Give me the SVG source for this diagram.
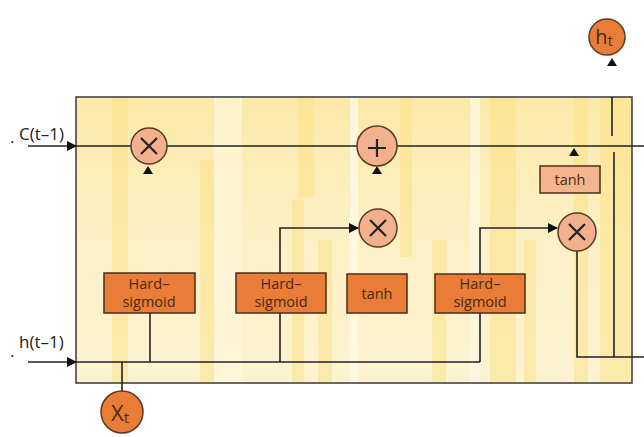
<svg xmlns="http://www.w3.org/2000/svg" width="644" height="437" viewBox="0 0 644 437">
<defs>
<marker id="arr" markerWidth="10" markerHeight="10" refX="9" refY="5" orient="auto" markerUnits="userSpaceOnUse">
<path d="M0,0 L10,5 L0,10 Z" fill="#111"/>
</marker>
<linearGradient id="bg" x1="0" y1="0" x2="0" y2="1">
<stop offset="0" stop-color="#FCE9A8"/>
<stop offset="0.5" stop-color="#FDF0C6"/>
<stop offset="1" stop-color="#FDF3D2"/>
</linearGradient>
</defs>
<style>
.ln{stroke:#222;stroke-width:1.6;fill:none}
.op{fill:#F2B08C;stroke:#5a3a22;stroke-width:1.5}
.gate{fill:#E97D38;stroke:#4a2e18;stroke-width:1.5}
.pale{fill:#F4B58E;stroke:#4a2e18;stroke-width:1.5}
.io{fill:#E97D38;stroke:#5a3a22;stroke-width:1.5}
.t{font-family:"Open Sans","Liberation Sans",sans-serif;font-size:14.5px;fill:#4a2a12;text-anchor:middle}
.lab{font-family:"Open Sans","Liberation Sans",sans-serif;font-size:17px;fill:#222}
.sym{stroke:#222;stroke-width:2.2;fill:none}
.tri{fill:#111}
.st{fill:#FBE07E;opacity:0.45}
</style>
<rect x="0" y="0" width="644" height="437" fill="#fff"/>
<g id="cell">
<rect x="76" y="97" width="556" height="286" fill="url(#bg)"/>
<rect x="112" y="97" width="16" height="286" class="st"/>
<rect x="200" y="160" width="14" height="223" class="st"/>
<rect x="214" y="97" width="28" height="286" fill="#FEF7DC" opacity="0.7"/>
<rect x="292" y="200" width="12" height="183" class="st"/>
<rect x="318" y="240" width="14" height="143" class="st"/>
<rect x="298" y="97" width="16" height="100" class="st"/>
<rect x="350" y="97" width="8" height="286" fill="#FEF9E6" opacity="0.8"/>
<rect x="400" y="97" width="12" height="160" class="st"/>
<rect x="432" y="240" width="14" height="143" class="st"/>
<rect x="470" y="97" width="10" height="286" fill="#FEF8E0" opacity="0.8"/>
<rect x="490" y="97" width="26" height="286" class="st"/>
<rect x="524" y="240" width="12" height="143" class="st"/>
<rect x="574" y="97" width="14" height="286" class="st"/>
<rect x="600" y="97" width="32" height="286" class="st" opacity="0.3"/>
<rect x="76" y="97" width="556" height="286" fill="none" stroke="#444" stroke-width="1.6"/>
</g>
<g id="connectors">
<line x1="28" y1="146" x2="76" y2="146" class="ln" marker-end="url(#arr)"/>
<line x1="76" y1="146" x2="644" y2="146" class="ln"/>
<line x1="28" y1="362" x2="76" y2="362" class="ln" marker-end="url(#arr)"/>
<line x1="76" y1="362" x2="480" y2="362" class="ln"/>
<polyline points="150,313 150,362" class="ln"/>
<polyline points="280,362 280,228 358,228" class="ln" marker-end="url(#arr)"/>
<polyline points="480,362 480,228 557,228" class="ln" marker-end="url(#arr)"/>
<polyline points="577,251 577,357 644,357" class="ln"/>
<line x1="614" y1="152" x2="614" y2="357" class="ln"/>
<line x1="612" y1="97" x2="612" y2="136" class="ln"/>
<line x1="122" y1="362" x2="122" y2="391" class="ln"/>
<path d="M143,174 L148,166 L153,174 Z" class="tri"/>
<path d="M372,174 L377,166 L382,174 Z" class="tri"/>
<path d="M569,156 L574,148 L579,156 Z" class="tri"/>
<path d="M607,66 L612,58 L617,66 Z" class="tri"/>
</g>
<g id="labels">
<text x="10" y="143" class="lab">.</text>
<text x="19" y="140" class="lab">C(t–1)</text>
<text x="10" y="357" class="lab">.</text>
<text x="19" y="348" class="lab">h(t–1)</text>
</g>
<g id="mult1"><circle cx="149" cy="146" r="18" class="op"/><path d="M141,138 L157,154 M157,138 L141,154" class="sym"/></g>
<g id="plus"><circle cx="377" cy="146" r="20" class="op"/><path d="M368,148 L386,148 M377,139 L377,157" class="sym"/></g>
<g id="mult2"><circle cx="378" cy="228" r="19" class="op"/><path d="M370,220 L386,236 M386,220 L370,236" class="sym"/></g>
<g id="mult3"><circle cx="577" cy="232" r="19" class="op"/><path d="M569,224 L585,240 M585,224 L569,240" class="sym"/></g>
<g id="tanh2"><rect x="540" y="166" width="60" height="27" class="pale"/><text x="570" y="185" class="t">tanh</text></g>
<g id="hs1"><rect x="104" y="273" width="91" height="40" class="gate"/><text x="149" y="289" class="t">Hard–</text><text x="149" y="307" class="t">sigmoid</text></g>
<g id="hs2"><rect x="236" y="273" width="90" height="40" class="gate"/><text x="281" y="289" class="t">Hard–</text><text x="281" y="307" class="t">sigmoid</text></g>
<g id="tanh1"><rect x="347" y="274" width="60" height="39" class="gate"/><text x="377" y="299" class="t">tanh</text></g>
<g id="hs3"><rect x="435" y="274" width="90" height="39" class="gate"/><text x="480" y="289" class="t">Hard–</text><text x="480" y="307" class="t">sigmoid</text></g>
<g id="ht"><circle cx="607" cy="37" r="18" class="io"/><text x="604" y="44" font-family="Open Sans, Liberation Sans, sans-serif" font-size="20" fill="#4a2a12" text-anchor="middle">h<tspan font-size="14" dy="2">t</tspan></text></g>
<g id="xt"><circle cx="122" cy="412" r="21" class="io"/><text x="120" y="421" font-family="Open Sans, Liberation Sans, sans-serif" font-size="22" fill="#4a2a12" text-anchor="middle">X<tspan font-size="15" dy="2">t</tspan></text></g>
</svg>
